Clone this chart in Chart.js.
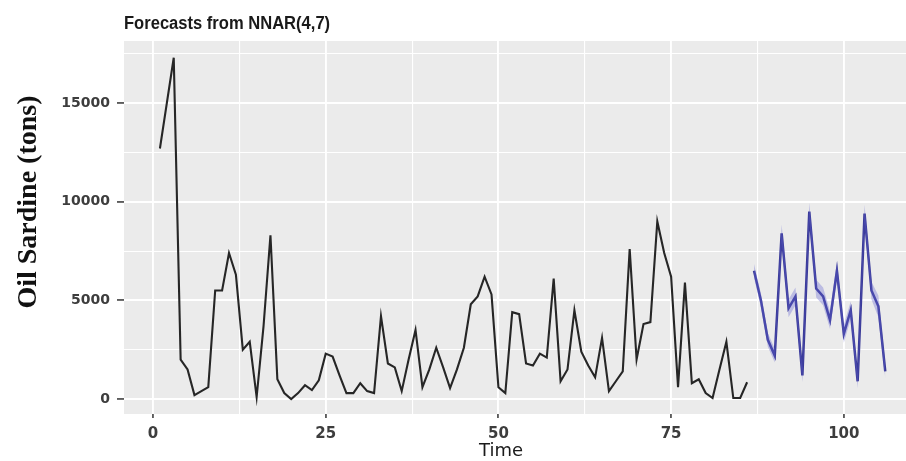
<!DOCTYPE html>
<html>
<head>
<meta charset="utf-8">
<script src="https://cdn.jsdelivr.net/npm/chart.js@4.4.1/dist/chart.umd.min.js"></script>
<style>
  html, body { margin: 0; padding: 0; background: #fff; }
  canvas { display: block; }
</style>
</head>
<body>
<canvas id="nnarChart" width="906" height="461"></canvas>
<script>
// observed oil sardine catch, time 1..86
const histStart = 1;
const histValues = [
    12700, 15000, 17300, 2000, 1500, 200, 400, 600, 5500, 5500,
    7400, 6300, 2500, 2900, 100, 3700, 8300, 1000, 300, 0,
    300, 700, 450, 950, 2300, 2150, 1200, 300, 300, 800,
    400, 300, 4200, 1800, 1600, 400, 2000, 3500, 600, 1500,
    2600, 1600, 550, 1500, 2600, 4800, 5200, 6200, 5300, 600,
    300, 4400, 4300, 1800, 1700, 2300, 2100, 6100, 900, 1500,
    4500, 2400, 1700, 1100, 3100, 400, 900, 1400, 7600, 2000,
    3800, 3900, 9000, 7400, 6200, 600, 5900, 800, 1000, 300,
    50, 1500, 2900, 50, 50, 850
];

// NNAR(4,7) forecast, time 87..106
const fcStart = 87;
const fcValues = [6500, 5000, 3000, 2200, 8400, 4600, 5200, 1200, 9500, 5600,
                  5200, 4000, 6500, 3300, 4500, 900, 9400, 5500, 4700, 1400];
const fcUpper  = [6850, 5350, 3350, 2550, 8850, 5050, 5650, 1550, 9950, 6050,
                  5650, 4450, 6950, 3750, 4950, 1250, 9850, 5950, 5250, 1750];
const fcLower  = [6150, 4650, 2650, 1850, 7950, 4150, 4750, 850, 9050, 5150,
                  4750, 3550, 6050, 2850, 4050, 550, 8950, 5050, 4150, 1050];

const xTicks = [0, 12.5, 25, 37.5, 50, 62.5, 75, 87.5, 100];
const xMajor = [0, 25, 50, 75, 100];
const yTicks = [0, 2500, 5000, 7500, 10000, 12500, 15000, 17500];
const yMajor = [0, 5000, 10000, 15000];

function toPoints(start, values) {
    return values.map((v, i) => ({ x: start + i, y: v }));
}

const panelPlugin = {
    id: 'panel',
    beforeDraw(chart) {
        const { ctx, chartArea } = chart;
        ctx.save();
        ctx.fillStyle = '#EBEBEB';
        ctx.fillRect(chartArea.left, chartArea.top,
            chartArea.right - chartArea.left, chartArea.bottom - chartArea.top);
        ctx.restore();
    },
    afterDraw(chart) {
        const ctx = chart.ctx;
        ctx.save();
        ctx.fillStyle = '#1a1a1a';
        ctx.textBaseline = 'alphabetic';
        ctx.textAlign = 'left';
        // title is a little condensed in the original
        ctx.save();
        ctx.translate(124, 29);
        ctx.scale(0.92, 1);
        ctx.font = 'bold 18px "Liberation Sans", Arial, sans-serif';
        ctx.fillText('Forecasts from NNAR(4,7)', 0, 0);
        ctx.restore();

        ctx.font = '18px "DejaVu Sans", sans-serif';
        ctx.textAlign = 'center';
        ctx.textBaseline = 'middle';
        ctx.fillText('Time', 501, 451);

        // y axis title
        ctx.translate(29, 202);
        ctx.rotate(-Math.PI / 2);
        ctx.fillStyle = '#111111';
        ctx.font = 'bold 28px "Liberation Serif", "Times New Roman", serif';
        ctx.fillText('Oil Sardine (tons)', 0, 0);
        ctx.restore();
    }
};

function gridOpts(major, len) {
    return {
        color: '#FFFFFF',
        lineWidth: c => (c.tick && major.includes(c.tick.value)) ? 1.9 : 1.1,
        tickColor: c => (c.tick && major.includes(c.tick.value)) ? '#333333' : 'rgba(0,0,0,0)',
        tickWidth: 1.5,
        tickLength: len,
        drawTicks: true
    };
}

const ctx = document.getElementById('nnarChart').getContext('2d');
const chart = new Chart(ctx, {
    type: 'line',
    data: {
        datasets: [
            {
                data: toPoints(fcStart, fcLower),
                borderWidth: 0,
                borderColor: 'rgba(0,0,0,0)',
                pointRadius: 0,
                fill: false
            },
            {
                data: toPoints(fcStart, fcUpper),
                borderWidth: 0,
                borderColor: 'rgba(0,0,0,0)',
                backgroundColor: 'rgba(100,100,210,0.35)',
                pointRadius: 0,
                fill: '-1'
            },
            {
                data: toPoints(fcStart, fcValues),
                borderColor: '#3a3a98',
                borderWidth: 2.5,
                pointRadius: 0,
                fill: false
            },
            {
                data: toPoints(histStart, histValues),
                borderColor: '#262626',
                borderWidth: 2.1,
                pointRadius: 0,
                fill: false
            }
        ]
    },
    options: {
        responsive: false,
        animation: false,
        devicePixelRatio: 1,
        layout: { padding: { top: 41, right: 0, bottom: 0, left: 0 } },
        plugins: {
            legend: { display: false },
            tooltip: { enabled: false }
        },
        elements: { line: { tension: 0 } },
        scales: {
            x: {
                type: 'linear',
                min: -4.2,
                max: 109,
                afterBuildTicks: s => { s.ticks = xTicks.map(v => ({ value: v })); },
                afterFit: s => { s.height = 47; },
                grid: gridOpts(xMajor, 4),
                border: { display: false },
                ticks: {
                    autoSkip: false,
                    maxRotation: 0,
                    padding: 7,
                    color: '#3d3d3d',
                    font: { family: '"DejaVu Sans", sans-serif', size: 15, weight: 'bold' },
                    callback: v => xMajor.includes(v) ? String(v) : ''
                }
            },
            y: {
                type: 'linear',
                min: -760,
                max: 18150,
                afterBuildTicks: s => { s.ticks = yTicks.map(v => ({ value: v })); },
                afterFit: s => { s.width = 124; },
                grid: gridOpts(yMajor, 7),
                border: { display: false },
                ticks: {
                    autoSkip: false,
                    padding: 7,
                    color: '#3d3d3d',
                    font: { family: '"DejaVu Sans", sans-serif', size: 14, weight: 'bold' },
                    callback: v => yMajor.includes(v) ? String(v) : ''
                }
            }
        }
    },
    plugins: [panelPlugin]
});
</script>
</body>
</html>
